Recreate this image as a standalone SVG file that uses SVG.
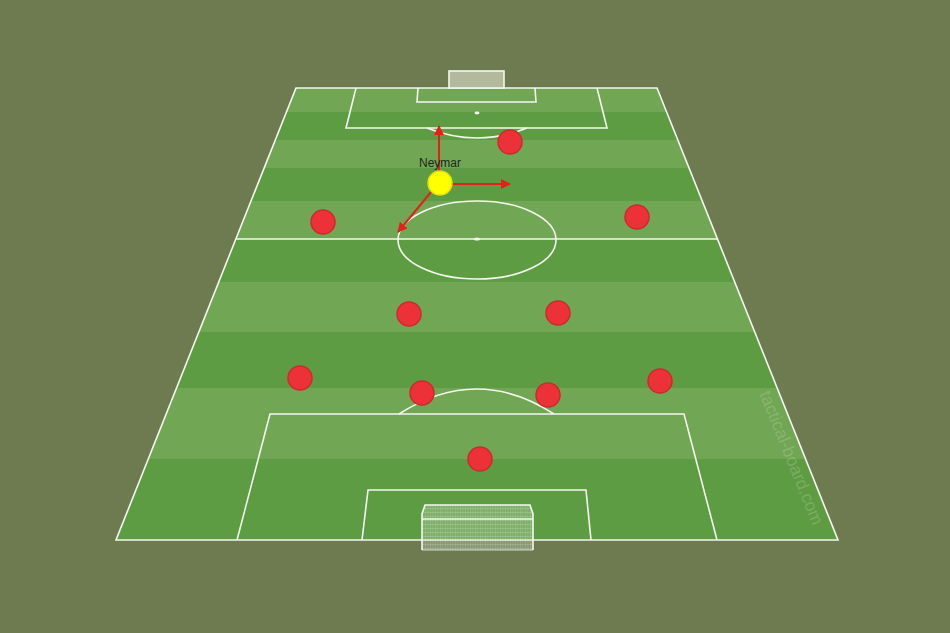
<svg xmlns="http://www.w3.org/2000/svg" width="950" height="633" viewBox="0 0 950 633">
<defs>
<style>
.line{fill:none;stroke:#f4f8ee;stroke-width:1.6}
.pl{fill:#ec3238;stroke:#cc2a2f;stroke-width:1.5}
.arr{stroke:#e0221b;stroke-width:2;fill:none;marker-end:url(#ah)}
.lt{fill:#71a654}
.dk{fill:#5e9c43}
</style>
<marker id="ah" viewBox="0 0 10 10" refX="9" refY="5" markerWidth="5" markerHeight="5" orient="auto" markerUnits="strokeWidth">
<path d="M0,0 L10,5 L0,10 z" fill="#e0221b"/>
</marker>
<clipPath id="pitch"><polygon points="296,88 657,88 838,540 116,540"/></clipPath>
<pattern id="net" width="2.5" height="4" patternUnits="userSpaceOnUse">
<rect width="2.5" height="4" fill="#c9dcbf" fill-opacity="0.3"/>
<path d="M0,0 H2.5 M0,0 V4" stroke="#ffffff" stroke-width="0.5" stroke-opacity="0.55"/>
</pattern>
</defs>
<rect width="950" height="633" fill="#6e7b51"/>
<g id="pitch-stripes" clip-path="url(#pitch)">
<rect class="lt" x="100" y="88" width="760" height="24"/>
<rect class="dk" x="100" y="112" width="760" height="28"/>
<rect class="lt" x="100" y="140" width="760" height="28"/>
<rect class="dk" x="100" y="168" width="760" height="33"/>
<rect class="lt" x="100" y="201" width="760" height="38"/>
<rect class="dk" x="100" y="239" width="760" height="43"/>
<rect class="lt" x="100" y="282" width="760" height="50"/>
<rect class="dk" x="100" y="332" width="760" height="56"/>
<rect class="lt" x="100" y="388" width="760" height="71"/>
<rect class="dk" x="100" y="459" width="760" height="81"/>
</g>
<g id="markings">
<polygon class="line" points="296,88 657,88 838,540 116,540"/>
<line class="line" x1="236" y1="239" x2="718" y2="239"/>
<ellipse class="line" cx="477" cy="240" rx="79" ry="39"/>
<ellipse cx="477" cy="239" rx="3" ry="1.6" fill="#f4f8ee"/>
<polyline class="line" points="356,88 346,128 607,128 597,88"/>
<polyline class="line" points="418,88 417,102 536,102 535,88"/>
<ellipse cx="477" cy="113" rx="2.5" ry="1.4" fill="#f4f8ee"/>
<path class="line" d="M427,128 Q477,148 527,128"/>
<polyline class="line" points="237,540 270,414 684,414 717,540"/>
<polyline class="line" points="362,540 368,490 586,490 591,540"/>
<path class="line" d="M399,414 Q477,364 554,414"/>
<rect id="top-goal" x="449" y="71" width="55" height="17" fill="#b3b99c" stroke="#f4f8ee" stroke-width="1.6"/>
<g id="bottom-goal">
<polygon points="425,505 530,505 533,514 533,550 422,550 422,514" fill="url(#net)"/>
<polyline class="line" points="422,550 422,514 425,505 530,505 533,514 533,550"/>
<line class="line" x1="422" y1="519" x2="533" y2="519"/>
<line class="line" x1="422" y1="550" x2="533" y2="550" stroke-opacity="0.5"/>
</g>
</g>
<text x="0" y="0" transform="translate(786,460) rotate(68)" text-anchor="middle" font-family="'Liberation Sans', Arial, sans-serif" font-size="17.5" fill="#ffffff" fill-opacity="0.18">tactical-board.com</text>
<g id="connectors">
<line class="arr" x1="439" y1="171" x2="439" y2="126"/>
<line class="arr" x1="452" y1="184" x2="510" y2="184"/>
<line class="arr" x1="431" y1="192" x2="398" y2="232"/>
</g>
<g id="neymar">
<circle cx="440" cy="183" r="12" fill="#ffff00" stroke="#dede10" stroke-width="1.5"/>
<text x="440" y="166.5" text-anchor="middle" font-family="'Liberation Sans', Arial, sans-serif" font-size="12" fill="#1e261a">Neymar</text>
</g>
<g id="p1"><circle class="pl" cx="510" cy="142" r="12"/></g>
<g id="p2"><circle class="pl" cx="323" cy="222" r="12"/></g>
<g id="p3"><circle class="pl" cx="637" cy="217" r="12"/></g>
<g id="p4"><circle class="pl" cx="409" cy="314" r="12"/></g>
<g id="p5"><circle class="pl" cx="558" cy="313" r="12"/></g>
<g id="p6"><circle class="pl" cx="300" cy="378" r="12"/></g>
<g id="p7"><circle class="pl" cx="422" cy="393" r="12"/></g>
<g id="p8"><circle class="pl" cx="548" cy="395" r="12"/></g>
<g id="p9"><circle class="pl" cx="660" cy="381" r="12"/></g>
<g id="p10"><circle class="pl" cx="480" cy="459" r="12"/></g>
</svg>
